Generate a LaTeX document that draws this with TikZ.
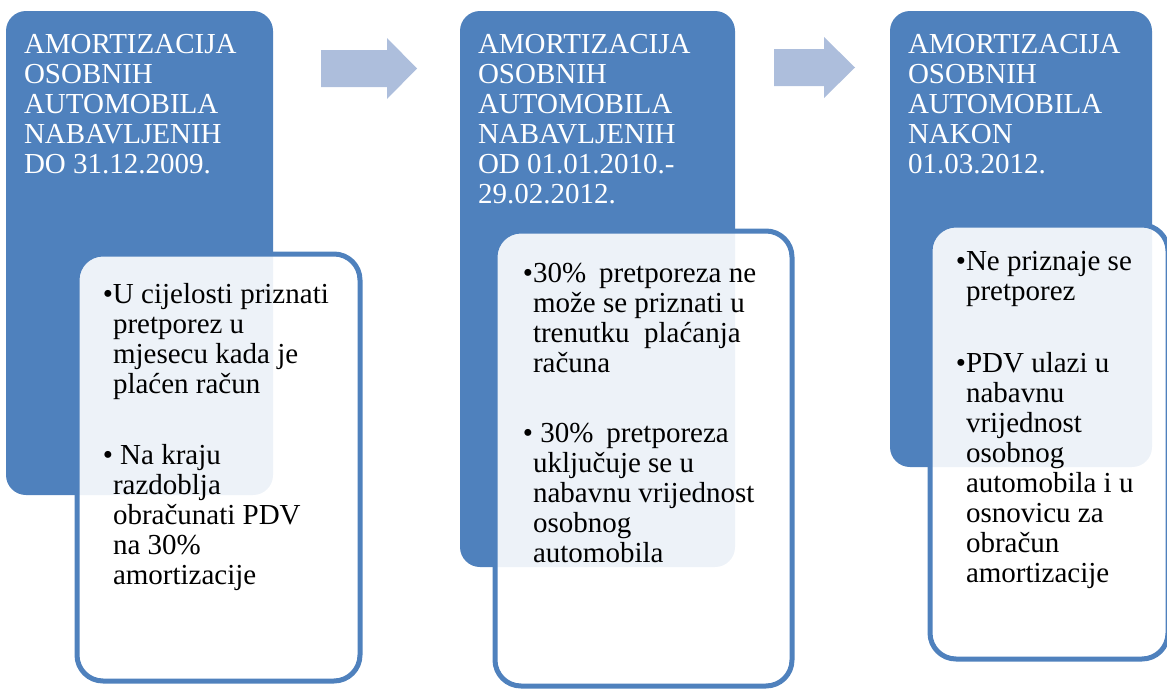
\documentclass[tikz,border=0pt]{standalone}
\usepackage{fontspec}
\setmainfont{Liberation Serif}
\definecolor{mainblue}{RGB}{79,129,189}
\definecolor{arrowblue}{RGB}{173,190,220}
\newcommand{\bigfont}{\fontsize{29}{30}\selectfont}
\newcommand{\bul}{\leavevmode\llap{•}}
\tikzset{
  bluebox/.style={rectangle, rounded corners=20pt, fill=mainblue, inner sep=0pt, outer sep=0pt, anchor=north west},
  whitebox/.style={rectangle, rounded corners=26pt, draw=mainblue, line width=5pt, fill=white, fill opacity=0.9, draw opacity=1, inner sep=0pt, outer sep=0pt, anchor=north west},
  titletxt/.style={inner sep=0pt, outer sep=0pt, anchor=base west, text=white},
  bodytxt/.style={inner sep=0pt, outer sep=0pt, anchor=base west, text=black},
  blockarrow/.style={fill=arrowblue}
}
\begin{document}
\begin{tikzpicture}[x=1pt,y=-1pt]
\useasboundingbox (0,0) rectangle (1167,688);
\clip (0,0) rectangle (1167,688);
% blue header boxes
\node[bluebox, minimum width=267pt, minimum height=484pt] (b1) at (6,11) {};
\node[bluebox, minimum width=275pt, minimum height=556pt] (b2) at (460,11) {};
\node[bluebox, minimum width=262pt, minimum height=456pt] (b3) at (890,11) {};
% white content boxes
\node[whitebox, minimum width=283pt, minimum height=427pt] (w1) at (77,254) {};
\node[whitebox, minimum width=297pt, minimum height=455pt] (w2) at (495,231) {};
\node[whitebox, minimum width=238pt, minimum height=434pt] (w3) at (930,225) {};
% block arrows
\fill[blockarrow] (321,50) -- (387,50) -- (387,38) -- (417,68.5) -- (387,99) -- (387,87) -- (321,87) -- cycle;
\fill[blockarrow] (774,49) -- (824,49) -- (824,37) -- (855,67.5) -- (824,98) -- (824,86) -- (774,86) -- cycle;
% titles
\node[titletxt] (h1) at (24,53) {\begin{minipage}[t]{260pt}\bigfont
AMORTIZACIJA\\ OSOBNIH\\ AUTOMOBILA\\ NABAVLJENIH\\ DO 31.12.2009.\end{minipage}};
\node[titletxt] (h2) at (478,53) {\begin{minipage}[t]{260pt}\bigfont
AMORTIZACIJA\\ OSOBNIH\\ AUTOMOBILA\\ NABAVLJENIH\\ OD 01.01.2010.-\\ 29.02.2012.\end{minipage}};
\node[titletxt] (h3) at (908,53) {\begin{minipage}[t]{260pt}\bigfont
AMORTIZACIJA\\ OSOBNIH\\ AUTOMOBILA\\ NAKON\\ 01.03.2012.\end{minipage}};
% body texts
\node[bodytxt] (c1) at (113,303) {\begin{minipage}[t]{300pt}\bigfont
\bul U cijelosti priznati\\ pretporez u\\ mjesecu kada je\\ plaćen račun\\[41pt]
\bul\ Na kraju\\ razdoblja\\ obračunati PDV\\ na 30\%\\ amortizacije\end{minipage}};
\node[bodytxt] (c2) at (533,282) {\begin{minipage}[t]{300pt}\bigfont
\bul 30\%\hspace{0.45em}pretporeza ne\\ može se priznati u\\ trenutku\hspace{0.5em}plaćanja\\ računa\\[40pt]
\bul\ 30\%\hspace{0.45em}pretporeza\\ uključuje se u\\ nabavnu vrijednost\\ osobnog\\ automobila\end{minipage}};
\node[bodytxt] (c3) at (966,270) {\begin{minipage}[t]{300pt}\bigfont
\bul Ne priznaje se\\ pretporez\\[42pt]
\bul PDV ulazi u\\ nabavnu\\ vrijednost\\ osobnog\\ automobila i u\\ osnovicu za\\ obračun\\ amortizacije\end{minipage}};
\end{tikzpicture}
\end{document}
